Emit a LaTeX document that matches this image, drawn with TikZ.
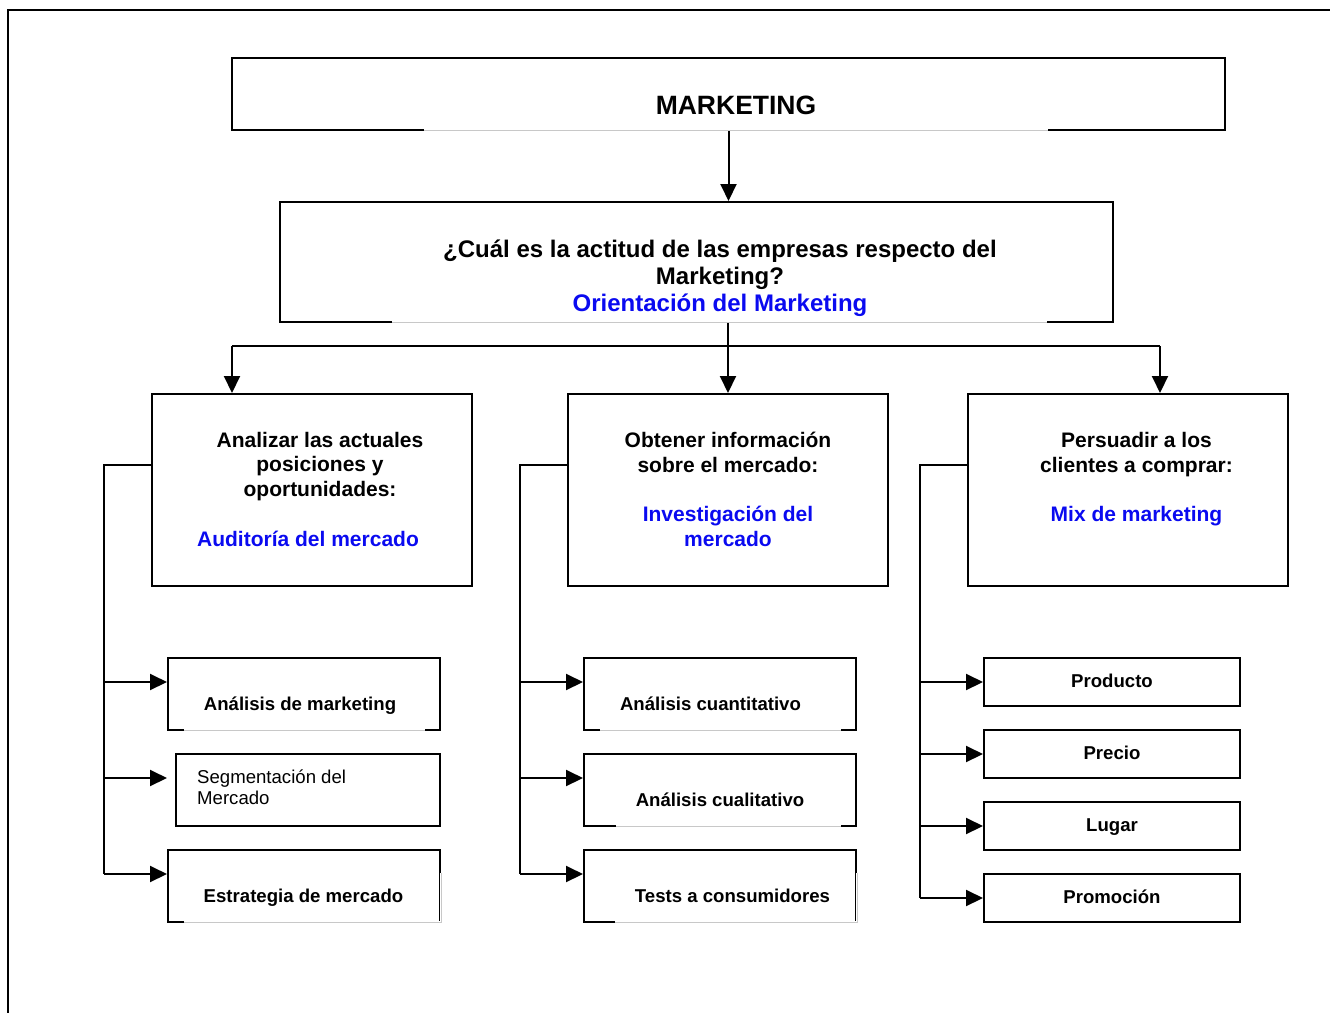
\documentclass[tikz,border=0pt]{standalone}
\usepackage{fontspec}
\setmainfont{Liberation Sans}
\usetikzlibrary{arrows.meta,calc}
\definecolor{lblue}{RGB}{10,10,240}
\definecolor{gapgray}{RGB}{200,200,200}
\begin{document}
\begin{tikzpicture}[x=1pt,y=-1pt,
  box/.style={draw,line width=2pt,inner sep=0pt},
  conn/.style={line width=2pt},
  arr/.style={line width=2pt,-{Triangle[length=17pt,width=16pt]}},
  tbig/.style={font=\fontsize{26.5}{30}\selectfont\bfseries,inner sep=0pt,text height=0.72em,text depth=0pt},
  tq/.style={font=\fontsize{24}{27}\selectfont\bfseries,inner sep=0pt,align=center},
  tmid/.style={font=\fontsize{21}{24.6}\selectfont\bfseries,inner sep=0pt,align=center},
  tsm/.style={font=\fontsize{18.6}{21}\selectfont\bfseries,inner sep=0pt,text height=0.72em,text depth=0pt},
  tsmr/.style={font=\fontsize{18.6}{21}\selectfont,inner sep=0pt,align=left},
  gapw/.style={white,line width=2.6pt},
  gapg/.style={gapgray,line width=0.8pt}
]
\useasboundingbox (0,0) rectangle (1330,1012);
% outer frame
\draw[line width=2pt] (1340,10) -- (8,10) -- (8,1020);

% boxes
\node[box,minimum width=993,minimum height=72] (mk) at (728.5,94) {};
\node[box,minimum width=833,minimum height=120] (q) at (696.5,262) {};
\node[box,minimum width=320,minimum height=192] (a) at (312,490) {};
\node[box,minimum width=320,minimum height=192] (b) at (728,490) {};
\node[box,minimum width=320,minimum height=192] (c) at (1128,490) {};

\node[box,minimum width=272,minimum height=72] (a1) at (304,694) {};
\node[box,minimum width=264,minimum height=72] (a2) at (308,790) {};
\node[box,minimum width=272,minimum height=72] (a3) at (304,886) {};

\node[box,minimum width=272,minimum height=72] (b1) at (720,694) {};
\node[box,minimum width=272,minimum height=72] (b2) at (720,790) {};
\node[box,minimum width=272,minimum height=72] (b3) at (720,886) {};

\node[box,minimum width=256,minimum height=48] (c1) at (1112,682) {};
\node[box,minimum width=256,minimum height=48] (c2) at (1112,754) {};
\node[box,minimum width=256,minimum height=48] (c3) at (1112,826) {};
\node[box,minimum width=256,minimum height=48] (c4) at (1112,898) {};

% border gaps (text-area overlays)
\draw[gapw] (424,130) -- (1048,130); \draw[gapg] (424,130) -- (1048,130);
\draw[gapw] (392,322) -- (1047,322); \draw[gapg] (392,322) -- (1047,322);
\draw[gapw] (184,730) -- (425,730); \draw[gapg] (184,730) -- (425,730);
\draw[gapw] (184,922) -- (441,922) -- (441,873); \draw[gapg] (184,922) -- (441,922) -- (441,873);
\draw[gapw] (600,730) -- (841,730); \draw[gapg] (600,730) -- (841,730);
\draw[gapw] (616,826) -- (841,826); \draw[gapg] (616,826) -- (841,826);
\draw[gapw] (615,922) -- (857,922) -- (857,873); \draw[gapg] (615,922) -- (857,922) -- (857,873);

% texts
\node[tbig] (tmk) at (736,111) {MARKETING};
\node[tq] (tq1) at (720,278) {¿Cuál es la actitud de las empresas respecto del\\Marketing?\\\textcolor{lblue}{Orientación del Marketing}};

\node[tmid] (ta1) at (320,466.5) {Analizar las actuales\\posiciones y\\oportunidades:};
\node[tmid,text=lblue] (ta2) at (308,539) {Auditoría del mercado};
\node[tmid] (tb) at (728,489.5) {Obtener información\\sobre el mercado:\\[24.6pt]\textcolor{lblue}{Investigación del}\\\textcolor{lblue}{mercado}};
\node[tmid] (tc) at (1136.5,479) {Persuadir a los\\clientes a comprar:\\[24.6pt]\textcolor{lblue}{Mix de marketing}};

\node[tsm] (ta1t) at (300,706.5) {Análisis de marketing};
\node[tsmr,anchor=west] (ta2t) at (197,787) {Segmentación del\\Mercado};
\node[tsm] (ta3t) at (303.5,898.5) {Estrategia de mercado};
\node[tsm] (tb1t) at (710.5,706.5) {Análisis cuantitativo};
\node[tsm] (tb2t) at (720,802.5) {Análisis cualitativo};
\node[tsm] (tb3t) at (732.5,898.5) {Tests a consumidores};
\node[tsm] (tc1t) at (1112,683.5) {Producto};
\node[tsm] (tc2t) at (1112,755.5) {Precio};
\node[tsm] (tc3t) at (1112,827.5) {Lugar};
\node[tsm] (tc4t) at (1112,899.5) {Promoción};

% connectors top
\draw[arr] (mk.south) -- (mk.south |- q.north);
\coordinate (hub) at (728,346);
\coordinate (ja) at (232,346);
\coordinate (jc) at (1160,346);
\draw[conn] (ja) -- (jc);
\draw[arr] (hub |- q.south) -- (hub |- b.north);
\draw[arr] (ja) -- (ja |- a.north);
\draw[arr] (jc) -- (jc |- c.north);

% left tree A
\coordinate (ta) at (104,465);
\coordinate (a1in) at (167,682);
\coordinate (a2in) at (167,778);
\coordinate (a3in) at (167,874);
\draw[conn] (ta -| a.west) -- (ta) -- (ta |- a3in);
\draw[arr] (ta |- a1in) -- (a1in);
\draw[arr] (ta |- a2in) -- (a2in);
\draw[arr] (ta |- a3in) -- (a3in);

% tree B
\coordinate (tb0) at (520,465);
\coordinate (b1in) at (583,682);
\coordinate (b2in) at (583,778);
\coordinate (b3in) at (583,874);
\draw[conn] (tb0 -| b.west) -- (tb0) -- (tb0 |- b3in);
\draw[arr] (tb0 |- b1in) -- (b1in);
\draw[arr] (tb0 |- b2in) -- (b2in);
\draw[arr] (tb0 |- b3in) -- (b3in);

% tree C
\coordinate (tc0) at (920,465);
\draw[conn] (tc0 -| c.west) -- (tc0) -- (tc0 |- c4.west);
\draw[arr] (tc0 |- c1.west) -- (c1.west);
\draw[arr] (tc0 |- c2.west) -- (c2.west);
\draw[arr] (tc0 |- c3.west) -- (c3.west);
\draw[arr] (tc0 |- c4.west) -- (c4.west);
\end{tikzpicture}
\end{document}
